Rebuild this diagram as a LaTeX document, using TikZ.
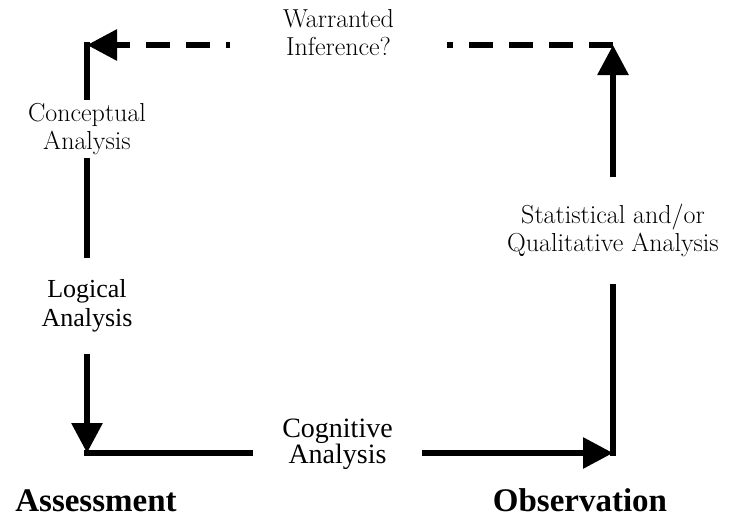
\documentclass[tikz,border=0pt]{standalone}
\usepackage{fontspec}
\newfontfamily\timesfont{Liberation Serif}
\usetikzlibrary{arrows.meta}

\begin{document}
\begin{tikzpicture}[x=1pt, y=-1pt]
  \tikzset{flow/.style = {line width=6pt, line cap=rect}}
  \tikzset{dashflow/.style = {line width=6pt, dash pattern=on 24pt off 16pt}}
  \tikzset{tip/.style = {-{Triangle[length=30pt, width=30pt]}}}
  \tikzset{note/.style = {align=center, inner sep=0pt, outer sep=0pt, font=\fontsize{26}{28}\selectfont}}
  \tikzset{tnote/.style = {note, font=\timesfont\fontsize{26}{29}\selectfont}}
  \tikzset{heading/.style = {anchor=base, inner sep=0pt, font=\timesfont\bfseries\fontsize{33}{40}\selectfont}}
  \useasboundingbox (0,0) rectangle (733,519);
  % corners of the loop
  \coordinate (tl) at (87,45);
  \coordinate (tr) at (613,45);
  \coordinate (bl) at (87,453);
  \coordinate (br) at (613,453);
  % labels
  \node[note, minimum height=64pt] (concept) at (87,129) {Conceptual\\Analysis};
  \node[tnote, minimum height=102pt] (logic) at (87,306) {Logical\\Analysis};
  \node[tnote, minimum width=175pt, font=\timesfont\fontsize{28}{26}\selectfont] (cognitive) at (337.5,444) {Cognitive\\Analysis};
  \node[note, minimum height=113pt] (stats) at (613,230) {Statistical and/or\\Qualitative Analysis};
  \node[note, minimum width=217pt] (warrant) at (338.5,33) {Warranted\\Inference?};
  \node[heading] (assess) at (96,511) {Assessment};
  \node[heading] (observe) at (580,511) {Observation};
  % loop
  \draw[flow] (tl) -- (concept);
  \draw[flow] (concept) -- (logic);
  \draw[flow, tip] (logic) -- (bl);
  \draw[flow] (bl) -- (cognitive.west |- bl);
  \draw[flow, tip] (cognitive.east |- bl) -- (br);
  \draw[flow] (br) -- (stats);
  \draw[flow, tip] (stats) -- (tr);
  \draw[dashflow] (tr) -- (warrant.east |- tr);
  \draw[dashflow, tip, dash phase=20pt] (warrant.west |- tr) -- (tl);
\end{tikzpicture}
\end{document}
